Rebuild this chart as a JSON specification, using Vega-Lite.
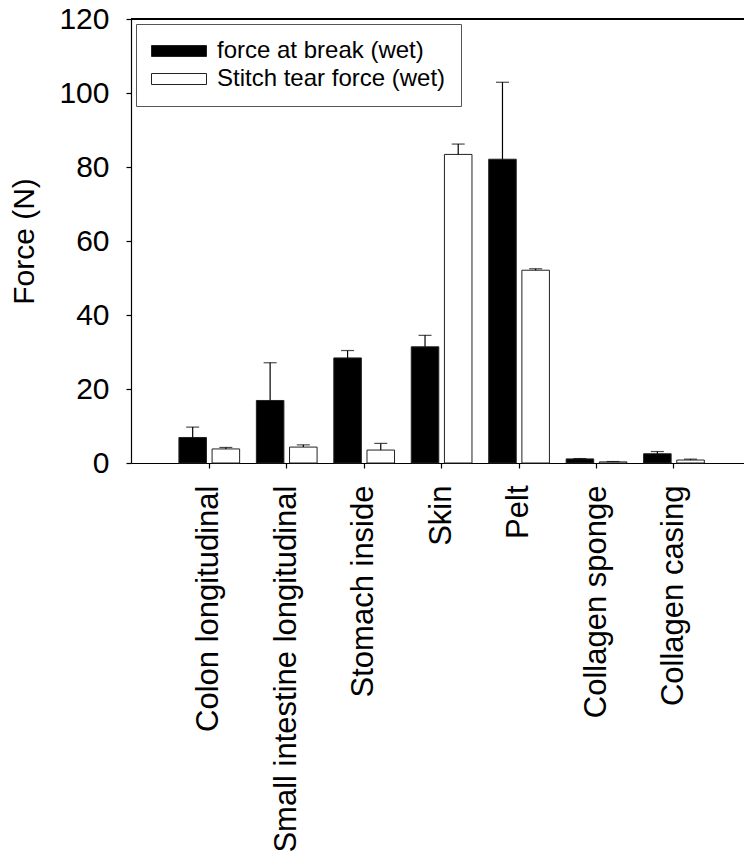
{
  "$schema": "https://vega.github.io/schema/vega-lite/v6.json",
  "width": 613,
  "height": 444,
  "autosize": "none",
  "padding": {"left": 131, "top": 19, "right": 0, "bottom": 394},
  "background": "white",
  "config": {"view": {"stroke": null}, "font": "Liberation Sans"},
  "data": {
    "values": [
      {"cat": "Colon longitudinal", "series": "force at break (wet)", "value": 6.9, "hi": 9.7},
      {"cat": "Colon longitudinal", "series": "Stitch tear force (wet)", "value": 3.8, "hi": 4.2},
      {"cat": "Small intestine longitudinal", "series": "force at break (wet)", "value": 16.9, "hi": 27.1},
      {"cat": "Small intestine longitudinal", "series": "Stitch tear force (wet)", "value": 4.3, "hi": 4.9},
      {"cat": "Stomach inside", "series": "force at break (wet)", "value": 28.4, "hi": 30.4},
      {"cat": "Stomach inside", "series": "Stitch tear force (wet)", "value": 3.5, "hi": 5.3},
      {"cat": "Skin", "series": "force at break (wet)", "value": 31.4, "hi": 34.5},
      {"cat": "Skin", "series": "Stitch tear force (wet)", "value": 83.4, "hi": 86.2},
      {"cat": "Pelt", "series": "force at break (wet)", "value": 82.1, "hi": 102.9},
      {"cat": "Pelt", "series": "Stitch tear force (wet)", "value": 52.1, "hi": 52.5},
      {"cat": "Collagen sponge", "series": "force at break (wet)", "value": 1.1, "hi": 1.2},
      {"cat": "Collagen sponge", "series": "Stitch tear force (wet)", "value": 0.3, "hi": 0.4},
      {"cat": "Collagen casing", "series": "force at break (wet)", "value": 2.5, "hi": 3.1},
      {"cat": "Collagen casing", "series": "Stitch tear force (wet)", "value": 0.8, "hi": 1.05}
    ]
  },
  "encoding": {
    "x": {
      "field": "cat",
      "type": "nominal",
      "sort": ["Colon longitudinal", "Small intestine longitudinal", "Stomach inside", "Skin", "Pelt", "Collagen sponge", "Collagen casing"],
      "scale": {"paddingInner": 0.216, "paddingOuter": 0.5655, "align": 0.547},
      "title": null,
      "axis": {
        "domainColor": "black",
        "domainWidth": 1.2,
        "tickColor": "black",
        "tickSize": 5,
        "tickWidth": 1.2,
        "labelAngle": -90,
        "labelAlign": "right",
        "labelBaseline": "middle",
        "labelFontSize": 31,
        "labelColor": "black",
        "labelPadding": 17,
        "labelLimit": 0,
        "labelOverlap": false,
        "grid": false
      }
    },
    "xOffset": {
      "field": "series",
      "type": "nominal",
      "sort": ["force at break (wet)", "Stitch tear force (wet)"],
      "scale": {"paddingInner": 0.17, "paddingOuter": 0}
    }
  },
  "layer": [
    {
      "mark": {"type": "rule", "color": "black", "strokeWidth": 1.2},
      "encoding": {
        "x": null,
        "xOffset": null,
        "y": {"datum": 120, "type": "quantitative"}
      }
    },
    {
      "mark": {"type": "bar", "stroke": "#222", "strokeWidth": 1},
      "encoding": {
        "y": {
          "field": "value",
          "type": "quantitative",
          "scale": {"domain": [0, 120], "nice": false},
          "axis": {
            "values": [0, 20, 40, 60, 80, 100, 120],
            "domainColor": "black",
            "domainWidth": 1.2,
            "tickColor": "black",
            "tickSize": 5,
            "tickWidth": 1.2,
            "labelFontSize": 30,
            "labelColor": "black",
            "labelPadding": 17,
            "grid": false,
            "title": "Force (N)",
            "titleFontSize": 30,
            "titleFontWeight": "normal",
            "titleColor": "black",
            "titlePadding": 19
          }
        },
        "fill": {
          "field": "series",
          "type": "nominal",
          "scale": {"domain": ["force at break (wet)", "Stitch tear force (wet)"], "range": ["black", "white"]},
          "legend": {
            "orient": "none",
            "legendX": 5,
            "legendY": 5,
            "title": null,
            "strokeColor": "#555",
            "fillColor": "white",
            "padding": 15,
            "symbolType": "M-5,-1H5V1H-5Z",
            "symbolSize": 121,
            "symbolOffset": 16,
            "symbolStrokeColor": "#222",
            "symbolStrokeWidth": 1,
            "symbolOpacity": 1,
            "labelOffset": 26,
            "labelFontSize": 24,
            "labelColor": "black",
            "labelLimit": 0,
            "rowPadding": 4
          }
        }
      }
    },
    {
      "mark": {"type": "rule", "color": "black", "strokeWidth": 1.2},
      "encoding": {
        "y": {"field": "value", "type": "quantitative"},
        "y2": {"field": "hi"}
      }
    },
    {
      "mark": {"type": "tick", "color": "black", "thickness": 1.2, "size": 13},
      "encoding": {
        "y": {"field": "hi", "type": "quantitative"}
      }
    }
  ]
}
